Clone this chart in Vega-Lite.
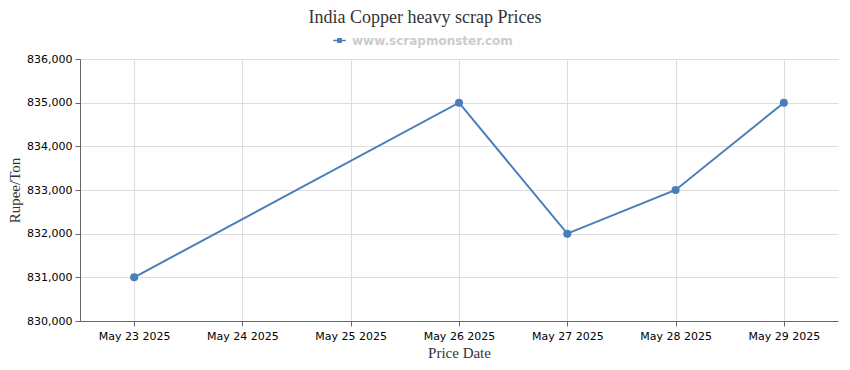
{
  "$schema": "https://vega.github.io/schema/vega-lite/v6.json",
  "width": 758,
  "height": 262,
  "autosize": "none",
  "padding": {"left": 80, "top": 59, "right": 12, "bottom": 49},
  "background": "white",
  "title": {
    "text": "India Copper heavy scrap Prices",
    "font": "Liberation Serif",
    "fontSize": 18,
    "fontWeight": "normal",
    "color": "#333333",
    "anchor": "middle",
    "dx": -34,
    "offset": 7
  },
  "data": {
    "values": [
      {"date": "May 23 2025", "price": 831000, "source": "www.scrapmonster.com"},
      {"date": "May 26 2025", "price": 835000, "source": "www.scrapmonster.com"},
      {"date": "May 27 2025", "price": 832000, "source": "www.scrapmonster.com"},
      {"date": "May 28 2025", "price": 833000, "source": "www.scrapmonster.com"},
      {"date": "May 29 2025", "price": 835000, "source": "www.scrapmonster.com"}
    ]
  },
  "encoding": {
    "x": {
      "field": "date",
      "type": "ordinal",
      "sort": null,
      "scale": {
        "type": "point",
        "padding": 0.5,
        "domain": ["May 23 2025", "May 24 2025", "May 25 2025", "May 26 2025", "May 27 2025", "May 28 2025", "May 29 2025"]
      },
      "axis": {
        "title": "Price Date",
        "labelAngle": 0,
        "labelFont": "DejaVu Sans",
        "labelFontSize": 11,
        "labelColor": "#000000",
        "labelPadding": 4,
        "titleFont": "Liberation Serif",
        "titleFontSize": 15,
        "titleFontWeight": "normal",
        "titleColor": "#333333",
        "titlePadding": 4,
        "domainColor": "#666666",
        "tickColor": "#666666",
        "tickSize": 5,
        "grid": true,
        "gridColor": "#dddddd"
      }
    },
    "y": {
      "field": "price",
      "type": "quantitative",
      "scale": {"domain": [830000, 836000], "nice": false, "zero": false},
      "axis": {
        "title": "Rupee/Ton",
        "format": ",.0f",
        "values": [830000, 831000, 832000, 833000, 834000, 835000, 836000],
        "labelFont": "DejaVu Sans",
        "labelFontSize": 11,
        "labelColor": "#000000",
        "labelPadding": 3,
        "titleFont": "Liberation Serif",
        "titleFontSize": 15,
        "titleFontWeight": "normal",
        "titleColor": "#333333",
        "titlePadding": 4,
        "domainColor": "#666666",
        "tickColor": "#666666",
        "tickSize": 5,
        "grid": true,
        "gridColor": "#dddddd"
      }
    },
    "color": {
      "field": "source",
      "type": "nominal",
      "scale": {"range": ["#4a7ebb"]},
      "legend": {
        "title": null,
        "orient": "none",
        "legendX": 253,
        "legendY": -25,
        "labelFont": "DejaVu Sans",
        "labelFontSize": 12,
        "labelFontWeight": "bold",
        "labelColor": "#cccccc",
        "labelLimit": 400,
        "symbolType": "M-1,-0.12H1V0.12H-1Z M-0.38,-0.38H0.38V0.38H-0.38Z",
        "symbolSize": 160,
        "symbolStrokeWidth": 0,
        "symbolFillColor": "#4a7ebb",
        "labelOffset": 6
      }
    }
  },
  "layer": [
    {"mark": {"type": "line", "strokeWidth": 2}},
    {"mark": {"type": "point", "filled": true, "size": 65, "opacity": 1}}
  ],
  "config": {"view": {"stroke": null}}
}
